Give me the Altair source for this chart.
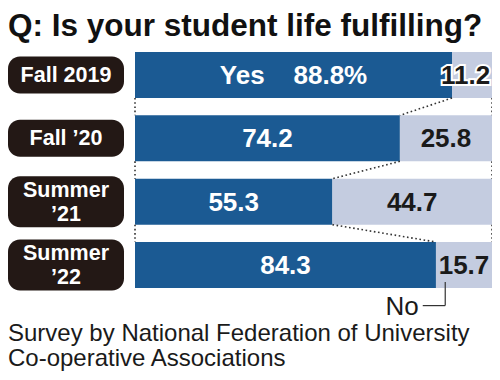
import altair as alt
import pandas as pd
import numpy as np

# ---- data ----
periods = ["Fall 2019", "Fall ’20", "Summer\n’21", "Summer\n’22"]
yes = [88.8, 74.2, 55.3, 84.3]
no = [11.2, 25.8, 44.7, 15.7]
yes_text = ["Yes\u00a0\u00a0\u00a0\u00a088.8%", "74.2", "55.3", "84.3"]
no_text = ["11.2", "25.8", "44.7", "15.7"]
title_text = "Q: Is your student life fulfilling?"
source_lines = ["Survey by National Federation of University", "Co-operative Associations"]

DARK = "#1b5a93"
LIGHT = "#c4cce0"
BOX = "#231815"
INK = "#1a1a1a"
FONT = "Liberation Sans"

W, H = 484, 364
Y_TOP, Y_BOT = 44, 280
B = 0.726                         # bar thickness as fraction of row step
STEP = (Y_BOT - Y_TOP) / (3 + B)  # px per row
LH = 24                           # line height of the period labels

df = pd.DataFrame({"period": periods, "i": list(range(4)), "yes": yes, "no": no,
                   "yes_text": yes_text, "no_text": no_text})
two = df["period"].str.contains("\n")
df["zero"] = 0.0
df["full"] = 100.0
df["y0"] = df["i"]
df["y1"] = df["i"] + B
df["yc"] = df["i"] + B / 2
df["ty"] = df["yc"] - np.where(two, (LH / 2) / STEP, 0)
df["yx"] = df["yes"] / 2
df["nx"] = np.minimum((df["yes"] + 100) / 2, 92.6)
hh = np.where(two, 25.5 / STEP, 18.5 / STEP)
df["by0"] = df["yc"] - hh
df["by1"] = df["yc"] + hh

# dotted connectors between consecutive bars
conn = []
for k in range(3):
    conn.append({"x": yes[k], "x2": yes[k + 1], "y": k + B, "y2": k + 1})
    conn.append({"x": 0.0, "x2": 0.0, "y": k + B, "y2": k + 1})
    conn.append({"x": 100.0, "x2": 100.0, "y": k + B, "y2": k + 1})
cdf = pd.DataFrame(conn)

xs = alt.Scale(domain=[0, 100], range=[127, 484])
ys = alt.Scale(domain=[0, 3 + B], range=[Y_TOP, Y_BOT])
X = lambda f: alt.X(f, scale=xs, axis=None)
Y = lambda f: alt.Y(f, scale=ys, axis=None)

base = alt.Chart(df)

yes_bar = base.mark_rect(color=DARK).encode(x=X("zero:Q"), x2="yes:Q", y=Y("y0:Q"), y2="y1:Q")
no_bar = base.mark_rect(color=LIGHT).encode(x=X("yes:Q"), x2="full:Q", y=Y("y0:Q"), y2="y1:Q")

connectors = alt.Chart(cdf).mark_rule(color="#333333", strokeDash=[1.6, 2.6], strokeWidth=1.6).encode(
    x=X("x:Q"), x2="x2:Q", y=Y("y:Q"), y2="y2:Q")

boxes = base.mark_rect(color=BOX, cornerRadius=12).encode(
    x=alt.value(0), x2=alt.value(116), y=Y("by0:Q"), y2="by1:Q")

box_text = base.mark_text(font=FONT, fontWeight="bold", fontSize=21.5, color="white",
                          lineBreak="\n", lineHeight=LH, baseline="middle", align="center", dy=1).encode(
    x=alt.value(58), y=Y("ty:Q"), text="period:N")

yes_lab = base.mark_text(font=FONT, fontWeight="bold", fontSize=26, color="white",
                         baseline="middle", align="center", dy=1).encode(
    x=X("yx:Q"), y=Y("yc:Q"), text="yes_text:N")

no_halo = base.transform_filter("datum.i == 0").mark_text(
    font=FONT, fontWeight="bold", fontSize=26, color="white", stroke="white", strokeWidth=4,
    baseline="middle", align="center", dy=1).encode(
    x=X("nx:Q"), y=Y("yc:Q"), text="no_text:N")
no_lab = base.mark_text(font=FONT, fontWeight="bold", fontSize=26, color=INK,
                        baseline="middle", align="center", dy=1).encode(
    x=X("nx:Q"), y=Y("yc:Q"), text="no_text:N")

# "No" annotation tied to the last row
last = df.iloc[[3]].copy()
last["lx"] = last["yes"] + 2.6
last["lx0"] = last["yes"] - 3.7
last["ly0"] = 3.633
last["ly1"] = 4.004
last["tx"] = last["yes"] - 4.8
lb = alt.Chart(last)
lead_v = lb.mark_rule(color="#333333", strokeWidth=1.2).encode(
    x=X("lx:Q"), y=Y("ly0:Q"), y2="ly1:Q")
lead_h = lb.mark_rule(color="#333333", strokeWidth=1.2).encode(
    x=X("lx0:Q"), x2="lx:Q", y=Y("ly1:Q"))
no_word = lb.mark_text(font=FONT, fontSize=26, color=INK, align="right",
                       baseline="middle", text="No", dy=1).encode(x=X("tx:Q"), y=Y("ly1:Q"))

title = alt.Chart(pd.DataFrame({"t": [title_text]})).mark_text(
    font=FONT, fontWeight="bold", fontSize=31.5, color="#111111", align="left",
    baseline="alphabetic").encode(x=alt.value(0), y=alt.value(28), text="t:N")

src1 = alt.Chart(pd.DataFrame({"t": [source_lines[0]]})).mark_text(
    font=FONT, fontSize=24, color=INK, align="left", baseline="alphabetic").encode(
    x=alt.value(0), y=alt.value(333), text="t:N")
src2 = alt.Chart(pd.DataFrame({"t": [source_lines[1]]})).mark_text(
    font=FONT, fontSize=24, color=INK, align="left", baseline="alphabetic").encode(
    x=alt.value(0), y=alt.value(358), text="t:N")

chart = alt.layer(yes_bar, no_bar, connectors, boxes, box_text, yes_lab, no_halo, no_lab,
                  lead_v, lead_h, no_word, title, src1, src2).properties(
    width=W, height=H, autosize=alt.AutoSizeParams(type="none"), padding=0
).configure_view(stroke=None)

chart.save("out.html", embed_options={"renderer": "svg", "actions": False})
